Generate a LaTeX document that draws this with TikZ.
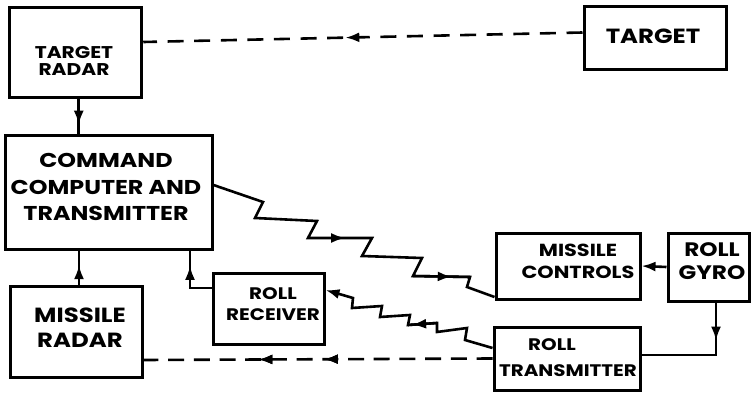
\documentclass[tikz,border=0pt]{standalone}
\usepackage{fontspec}
\usetikzlibrary{arrows.meta,decorations.markings,calc}
\newfontfamily\lettering{Poppins}[FakeStretch=1.19]

\tikzset{
  block/.style={draw, line width=3pt, inner sep=0pt, rectangle},
  caption/.style={align=center, inner sep=0pt, font={\lettering\bfseries\fontsize{#1}{#1}\selectfont}},
  wire/.style={line width=2.6pt, line join=miter},
  radio/.style={wire, dash pattern=on 16pt off #1},
  tip/.style={-{Latex[length=14pt,width=10pt]}},
  midtip/.style={postaction={decorate}, decoration={markings,
      mark=at position #1 with {\arrow{Latex[length=14pt,width=10pt]}}}},
}

\begin{document}
\begin{tikzpicture}[x=1pt, y=-1pt]
\useasboundingbox (0,0) rectangle (755,393);

% boxes
\node[block, minimum width=132pt, minimum height=90pt]  (tgtradar) at (75.75,53)  {};
\node[block, minimum width=142pt, minimum height=63pt]  (target)   at (655,38.5)  {};
\node[block, minimum width=207pt, minimum height=113pt] (cmd)      at (108.5,192.5) {};
\node[block, minimum width=132pt, minimum height=91pt]  (msradar)  at (76,331.5)  {};
\node[block, minimum width=111pt, minimum height=71pt]  (rollrcv)  at (268.5,308.5) {};
\node[block, minimum width=144pt, minimum height=66pt]  (msctrl)   at (568,266)   {};
\node[block, minimum width=81pt,  minimum height=68pt]  (gyro)     at (708.5,267) {};
\node[block, minimum width=146pt, minimum height=63pt]  (rolltx)   at (567,358.5) {};

% lettering
\node[caption=17, font={\lettering\bfseries\fontsize{17}{17}\selectfont}] (tgtradar-t) at (74,61) {TARGET\\RADAR};
\node[caption=20.5] (target-t) at (653,36) {TARGET};
\node[caption=20, font={\lettering\bfseries\fontsize{20}{26.5}\selectfont}] (cmd-t) at (106,187) {COMMAND\\COMPUTER AND\\TRANSMITTER};
\node[caption=20.5, font={\lettering\bfseries\fontsize{20.5}{25}\selectfont}] (msradar-t) at (80,328) {MISSILE\\RADAR};
\node[caption=16.7, font={\lettering\bfseries\fontsize{16.7}{21}\selectfont}] (rollrcv-t) at (273,304) {ROLL\\RECEIVER};
\node[caption=17.5, font={\lettering\bfseries\fontsize{17.5}{22}\selectfont}] (msctrl-t) at (578,261) {MISSILE\\CONTROLS};
\node[caption=19.5, font={\lettering\bfseries\fontsize{19.5}{23}\selectfont}] (gyro-t) at (712,261) {ROLL\\GYRO};
\node[caption=16.7, font={\lettering\bfseries\fontsize{16.7}{26}\selectfont}] (rolltx-t) at (568,358) {ROLL\hspace*{32pt}\\TRANSMITTER};

% target echo to the tracking radar
\draw[radio=10.6pt, midtip=0.54] ([yshift=6pt]target.west) -- ([yshift=11pt]tgtradar.east);

% radar data into the computer
\draw[wire, midtip=0.72] ([xshift=3pt]tgtradar.south) -- ([xshift=3pt]tgtradar.south |- cmd.north);
\draw[wire, midtip=0.57] ([xshift=3pt]msradar.north) -- ([xshift=3pt]msradar.north |- cmd.south);
\coordinate (rr-bend) at ([yshift=20.5pt]rollrcv.west -| 190,0);
\draw[wire, midtip=0.74] ([yshift=20.5pt]rollrcv.west) -- (rr-bend) -- (rr-bend |- cmd.south);

% command link to the missile controls
\coordinate (c1) at (263,202);
\coordinate (c2) at (255,218);
\coordinate (c3) at (317,221);
\coordinate (c4) at (308,238);
\coordinate (c5) at (372,238);
\coordinate (c6) at (362,256);
\coordinate (c7) at (422,258);
\coordinate (c8) at (413,276);
\coordinate (c9) at (470,277);
\coordinate (c10) at (467,287);
\draw[wire] ([yshift=7.5pt]cmd.east) -- (c1) -- (c2) -- (c3) -- (c4) -- (c5) -- (c6)
  -- (c7) -- (c8) -- (c9) -- (c10) -- ([yshift=-31pt]msctrl.west);
\draw[wire, midtip=0.58] (c4) -- (c5);
\draw[wire, midtip=0.68] (c8) -- (c9);

% roll link back to the receiver
\coordinate (r1) at (465,340);
\coordinate (r2) at (467,328);
\coordinate (r3) at (437,332);
\coordinate (r4) at (437,323);
\coordinate (r5) at (408,325);
\coordinate (r6) at (410,315);
\coordinate (r7) at (380,317);
\coordinate (r8) at (382,306);
\coordinate (r9) at (352,308);
\coordinate (r10) at (353,298);
\draw[wire, tip] ([yshift=10.5pt]rolltx.west) -- (r1) -- (r2) -- (r3) -- (r4) -- (r5)
  -- (r6) -- (r7) -- (r8) -- (r9) -- (r10) -- ([yshift=18.5pt]rollrcv.east);
\draw[wire, midtip=0.86] (r4) -- (r5);

% roll transmitter to the missile radar
\draw[radio=9.7pt, midtip=0.483, midtip=0.671] (rolltx.west) -- ([yshift=-28.5pt]msradar.east);

% gyro outputs
\draw[wire, tip] (gyro.west) -- (msctrl.east);
\coordinate (g-bend) at ([xshift=7.5pt]gyro.south |- 0,355);
\draw[wire, midtip=0.30] ([xshift=7.5pt]gyro.south) -- (g-bend) -- (g-bend -| rolltx.east);
\end{tikzpicture}
\end{document}
